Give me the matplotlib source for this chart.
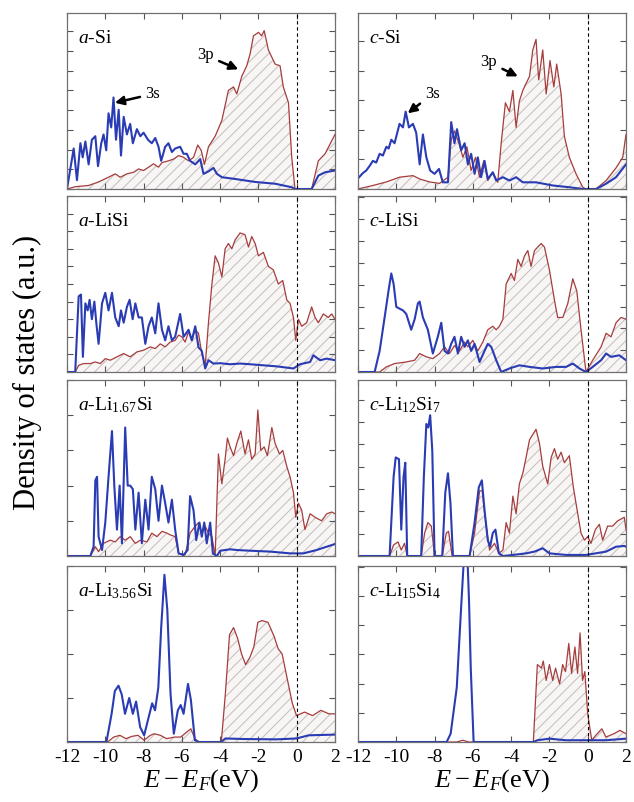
import numpy as np
import matplotlib.pyplot as plt
from matplotlib.ticker import MultipleLocator

plt.rcParams['font.family'] = 'serif'
plt.rcParams['font.serif'] = ['Liberation Serif', 'DejaVu Serif']
plt.rcParams['mathtext.fontset'] = 'custom'
plt.rcParams['mathtext.rm'] = 'Liberation Serif'
plt.rcParams['mathtext.it'] = 'Liberation Serif:italic'
plt.rcParams['axes.unicode_minus'] = False
plt.rcParams['hatch.color'] = '#c4bcbc'
plt.rcParams['hatch.linewidth'] = 0.7

# (E - E_F in eV, DOS in a.u.), 3s = blue, 3p = red
a_si_s = [(-12.0, 0), (-11.65, .23), (-11.48, .05), (-11.3, .26), (-11.18, .18), (-11.04, .27),
          (-10.87, .14), (-10.7, .28), (-10.52, .30), (-10.38, .13), (-10.21, .26), (-10.09, .31),
          (-9.95, .22), (-9.83, .43), (-9.69, .35), (-9.57, .52), (-9.44, .28), (-9.3, .45),
          (-9.18, .19), (-9.04, .41), (-8.87, .31), (-8.7, .37), (-8.56, .26), (-8.35, .34),
          (-8.17, .30), (-8.0, .32), (-7.77, .28), (-7.57, .26), (-7.39, .29), (-7.22, .24),
          (-7.08, .16), (-6.87, .24), (-6.7, .26), (-6.52, .21), (-6.35, .23), (-6.09, .24),
          (-5.91, .20), (-5.74, .20), (-5.57, .16), (-5.3, .14), (-5.04, .17), (-4.87, .086),
          (-4.61, .10), (-4.35, .12), (-4.17, .086), (-3.91, .067), (-3.22, .057), (-2.17, .04),
          (-1.13, .03), (-0.26, .01), (-0.09, 0), (0.78, 0), (1.13, .076), (1.48, .095), (2.0, .105)]
a_si_p = [(-12.0, 0), (-11.57, .013), (-10.87, .02), (-10.35, .04), (-9.83, .067), (-9.48, .086),
          (-9.22, .067), (-8.87, .086), (-8.52, .095), (-8.26, .114), (-8.0, .105), (-7.74, .124),
          (-7.48, .143), (-7.22, .124), (-7.04, .15), (-6.7, .16), (-6.43, .17), (-6.17, .19),
          (-5.91, .18), (-5.65, .16), (-5.39, .18), (-5.17, .25), (-4.99, .22), (-4.82, .14),
          (-4.61, .24), (-4.26, .30), (-3.91, .39), (-3.57, .56), (-3.3, .58), (-3.13, .54),
          (-2.87, .64), (-2.61, .70), (-2.43, .77), (-2.26, .87), (-2.0, .89), (-1.83, .87),
          (-1.7, .90), (-1.48, .79), (-1.13, .71), (-0.87, .70), (-0.7, .58), (-0.43, .49),
          (-0.26, .18), (-0.09, 0), (0.78, 0), (1.13, .16), (1.48, .20), (2.0, .31)]

c_si_s = [(-12.0, .06), (-11.75, .09), (-11.57, .105), (-11.4, .13), (-11.22, .16), (-11.05, .15),
          (-10.87, .20), (-10.7, .19), (-10.52, .24), (-10.4, .23), (-10.26, .28), (-10.09, .26),
          (-9.83, .37), (-9.65, .35), (-9.51, .44), (-9.34, .35), (-9.13, .37), (-8.96, .32),
          (-8.78, .14), (-8.61, .31), (-8.43, .18), (-8.23, .105), (-8.0, .086), (-7.77, .114),
          (-7.57, .038), (-7.3, .038), (-7.13, .38), (-6.96, .26), (-6.83, .34), (-6.61, .22),
          (-6.43, .26), (-6.26, .14), (-6.09, .20), (-5.91, .086), (-5.74, .18), (-5.57, .067),
          (-5.39, .16), (-5.22, .057), (-4.96, .095), (-4.78, .048), (-4.43, .067), (-4.09, .048),
          (-3.74, .067), (-3.39, .038), (-2.7, .038), (-1.83, .02), (-0.96, .01), (-0.26, 0),
          (0.43, 0), (0.96, .03), (1.48, .067), (2.0, .14)]
c_si_p = [(-12.0, 0), (-11.22, .02), (-10.52, .04), (-9.83, .067), (-9.13, .076), (-8.78, .057),
          (-8.26, .04), (-7.74, .032), (-7.3, .067), (-7.13, .28), (-6.96, .33), (-6.73, .26),
          (-6.52, .18), (-6.31, .24), (-6.09, .105), (-5.86, .18), (-5.65, .067), (-5.43, .16),
          (-5.22, .048), (-4.96, .095), (-4.7, .038), (-4.52, .26), (-4.3, .49), (-4.09, .44),
          (-3.91, .56), (-3.74, .35), (-3.57, .50), (-3.39, .56), (-3.22, .60), (-3.04, .64),
          (-2.87, .79), (-2.7, .85), (-2.56, .62), (-2.35, .79), (-2.17, .54), (-1.97, .73),
          (-1.77, .58), (-1.62, .71), (-1.39, .54), (-1.22, .30), (-0.96, .18), (-0.61, .086),
          (-0.26, .01), (-0.09, 0), (0.43, 0), (0.96, .048), (1.48, .12), (1.83, .18), (2.0, .31)]

a_lisi_s = [(-12.0, 0), (-11.57, 0), (-11.39, .43), (-11.27, .44), (-11.17, .086), (-11.04, .39),
            (-10.92, .35), (-10.82, .41), (-10.7, .30), (-10.57, .40), (-10.47, .28), (-10.35, .16),
            (-10.17, .39), (-10.0, .45), (-9.83, .35), (-9.65, .45), (-9.48, .31), (-9.3, .26),
            (-9.18, .35), (-9.04, .28), (-8.87, .37), (-8.73, .41), (-8.57, .30), (-8.43, .39),
            (-8.26, .31), (-8.09, .31), (-7.91, .16), (-7.74, .26), (-7.57, .31), (-7.39, .22),
            (-7.22, .39), (-7.04, .24), (-6.87, .18), (-6.7, .26), (-6.52, .18), (-6.35, .20),
            (-6.09, .33), (-5.91, .20), (-5.65, .24), (-5.48, .18), (-5.3, .26), (-5.13, .14),
            (-4.96, .12), (-4.78, .02), (-4.61, .067), (-4.35, .048), (-4.0, .05), (-3.48, .044),
            (-2.96, .048), (-2.43, .044), (-1.74, .038), (-1.04, .032), (-0.17, .02), (0.17, .044),
            (0.7, .057), (0.87, .095), (1.22, .067), (1.57, .076), (2.0, .067)]
a_lisi_p = [(-12.0, 0), (-11.57, 0), (-11.39, .038), (-11.13, .048), (-10.78, .048), (-10.52, .057),
            (-10.26, .048), (-10.0, .076), (-9.74, .067), (-9.39, .086), (-9.04, .105), (-8.7, .086),
            (-8.35, .114), (-8.0, .124), (-7.65, .143), (-7.39, .133), (-7.13, .16), (-6.87, .143),
            (-6.61, .17), (-6.35, .18), (-6.17, .21), (-6.0, .20), (-5.83, .17), (-5.65, .23),
            (-5.48, .18), (-5.3, .24), (-5.13, .22), (-4.96, .105), (-4.78, .038), (-4.61, .28),
            (-4.43, .50), (-4.26, .66), (-4.09, .62), (-3.91, .54), (-3.74, .70), (-3.57, .73),
            (-3.39, .70), (-3.22, .75), (-2.96, .79), (-2.7, .78), (-2.52, .71), (-2.35, .77),
            (-2.17, .73), (-2.0, .66), (-1.74, .68), (-1.48, .60), (-1.22, .58), (-0.96, .50),
            (-0.73, .52), (-0.52, .41), (-0.35, .39), (-0.17, .31), (-0.05, .18), (0.09, .30),
            (0.26, .26), (0.52, .28), (0.78, .37), (0.96, .31), (1.13, .28), (1.39, .33),
            (1.65, .31), (1.83, .33), (2.0, .30)]

c_lisi_s = [(-12.0, 0), (-11.13, 0), (-10.87, .12), (-10.61, .31), (-10.38, .48), (-10.26, .56),
            (-10.14, .50), (-10.0, .37), (-9.83, .36), (-9.65, .35), (-9.48, .33), (-9.22, .24),
            (-9.04, .30), (-8.87, .39), (-8.78, .40), (-8.61, .31), (-8.35, .24), (-8.09, .105),
            (-7.83, .20), (-7.65, .28), (-7.48, .12), (-7.3, .105), (-7.13, .16), (-6.96, .20),
            (-6.78, .105), (-6.61, .20), (-6.43, .143), (-6.26, .18), (-6.09, .12), (-5.91, .16),
            (-5.65, .057), (-5.39, .12), (-5.22, .16), (-5.04, .143), (-4.78, .067), (-4.52, 0),
            (-4.09, .02), (-3.57, .038), (-3.04, .029), (-2.35, .02), (-1.65, .029), (-1.13, .029),
            (-0.78, .048), (-0.43, .02), (-0.09, 0), (0.26, .029), (0.7, .067), (0.96, .105),
            (1.22, .086), (1.65, .095), (2.0, .067)]
c_lisi_p = [(-12.0, 0), (-10.87, 0), (-10.52, .029), (-10.09, .048), (-9.48, .057), (-9.04, .067),
            (-8.78, .105), (-8.43, .086), (-8.09, .076), (-7.74, .105), (-7.48, .143), (-7.22, .105),
            (-6.96, .15), (-6.7, .12), (-6.43, .17), (-6.26, .143), (-6.0, .18), (-5.74, .12),
            (-5.48, .17), (-5.22, .24), (-4.96, .26), (-4.78, .24), (-4.61, .26), (-4.43, .30),
            (-4.26, .50), (-4.0, .56), (-3.83, .52), (-3.65, .64), (-3.48, .60), (-3.3, .66),
            (-3.13, .69), (-2.96, .60), (-2.78, .69), (-2.61, .71), (-2.43, .73), (-2.26, .71),
            (-2.0, .58), (-1.74, .41), (-1.57, .31), (-1.3, .31), (-1.04, .39), (-0.78, .53),
            (-0.57, .46), (-0.35, .24), (-0.09, 0), (0.26, .067), (0.7, .143), (0.96, .22),
            (1.22, .20), (1.48, .28), (1.74, .31), (2.0, .30)]

a_li167_s = [(-12.0, 0), (-10.78, 0), (-10.61, .053), (-10.52, .43), (-10.43, .45), (-10.35, .11),
             (-10.17, .034), (-10.0, .19), (-9.83, .45), (-9.65, .71), (-9.53, .40), (-9.39, .15),
             (-9.25, .40), (-9.13, .072), (-8.96, .73), (-8.83, .40), (-8.7, .40), (-8.56, .38),
             (-8.43, .15), (-8.26, .36), (-8.09, .072), (-7.91, .32), (-7.74, .15), (-7.57, .45),
             (-7.39, .38), (-7.22, .20), (-7.04, .40), (-6.87, .30), (-6.7, .19), (-6.52, .32),
             (-6.35, .15), (-6.17, .015), (-5.91, .006), (-5.7, .034), (-5.57, .34), (-5.39, .26),
             (-5.25, .09), (-5.08, .19), (-4.96, .11), (-4.83, .19), (-4.7, .072), (-4.52, .19),
             (-4.38, .015), (-4.17, 0), (-4.0, .03), (-3.48, .038), (-3.13, .034), (-2.43, .03),
             (-1.39, .025), (-0.35, .015), (0.35, .015), (1.04, .034), (1.57, .053), (2.0, .068)]
a_li167_p = [(-12.0, 0), (-10.78, 0), (-10.52, .053), (-10.35, .025), (-10.09, .072), (-9.74, .09),
             (-9.48, .08), (-9.22, .11), (-8.96, .09), (-8.7, .11), (-8.43, .072), (-8.17, .09),
             (-7.83, .08), (-7.57, .13), (-7.3, .11), (-7.04, .14), (-6.78, .13), (-6.61, .12),
             (-6.35, .11), (-6.17, .015), (-5.83, .006), (-5.57, .13), (-5.3, .17), (-5.13, .19),
             (-4.96, .13), (-4.78, .17), (-4.61, .13), (-4.43, .11), (-4.26, 0), (-4.09, .58),
             (-3.91, .41), (-3.74, .55), (-3.62, .67), (-3.48, .62), (-3.3, .57), (-3.13, .64),
             (-2.92, .71), (-2.7, .58), (-2.52, .66), (-2.35, .55), (-2.17, .58), (-2.03, .83),
             (-1.88, .60), (-1.7, .62), (-1.53, .57), (-1.3, .73), (-1.13, .64), (-0.9, .58),
             (-0.73, .60), (-0.52, .51), (-0.35, .45), (-0.17, .36), (-0.05, .22), (0.09, .30),
             (0.26, .26), (0.43, .15), (0.7, .24), (0.96, .22), (1.3, .20), (1.57, .24),
             (1.83, .25), (2.0, .24)]

c_li12si7_s = [(-12.0, 0), (-10.35, 0), (-10.14, .45), (-10.03, .56), (-9.86, .55), (-9.74, .15),
               (-9.62, .45), (-9.53, .53), (-9.43, 0), (-8.7, 0), (-8.56, .45), (-8.43, .75),
               (-8.33, .73), (-8.23, .80), (-8.12, .60), (-8.0, 0), (-7.6, 0), (-7.44, .36),
               (-7.3, .47), (-7.17, .30), (-7.04, 0), (-6.17, 0), (-5.91, .19), (-5.69, .39),
               (-5.53, .43), (-5.39, .26), (-5.22, .09), (-5.1, .053), (-4.96, .13), (-4.82, .15),
               (-4.64, .015), (-4.43, 0), (-3.91, .006), (-3.22, .015), (-2.78, .025), (-2.35, .044),
               (-2.0, .015), (-1.13, .006), (-0.09, .006), (0.96, .025), (1.48, .053), (1.91, .057),
               (2.0, .053)]
c_li12si7_p = [(-12.0, 0), (-10.35, 0), (-10.14, .063), (-9.91, .08), (-9.74, .034), (-9.57, .072),
               (-9.43, 0), (-8.7, 0), (-8.52, .13), (-8.35, .19), (-8.17, .17), (-8.0, 0), (-7.6, 0),
               (-7.39, .13), (-7.27, .14), (-7.08, 0), (-6.17, 0), (-5.91, .13), (-5.65, .37),
               (-5.51, .37), (-5.34, .20), (-5.13, .034), (-4.87, .072), (-4.64, .015), (-4.43, .034),
               (-4.26, .19), (-4.09, .13), (-3.91, .34), (-3.74, .24), (-3.57, .41), (-3.39, .47),
               (-3.22, .56), (-3.04, .66), (-2.87, .69), (-2.7, .72), (-2.52, .64), (-2.35, .51),
               (-2.09, .41), (-1.91, .56), (-1.74, .61), (-1.57, .55), (-1.39, .59), (-1.22, .53),
               (-0.96, .57), (-0.75, .39), (-0.52, .24), (-0.35, .13), (-0.17, .09), (0.0, .11),
               (0.17, .072), (0.4, .15), (0.61, .18), (0.78, .09), (1.04, .17), (1.3, .17),
               (1.57, .20), (1.91, .22), (2.0, .15)]

a_li356_s = [(-12.0, 0), (-9.94, 0), (-9.67, .16), (-9.5, .29), (-9.31, .32), (-9.14, .27),
             (-8.97, .16), (-8.75, .25), (-8.56, .16), (-8.39, .23), (-8.18, .085), (-7.97, .038),
             (-7.69, .16), (-7.55, .22), (-7.4, .18), (-7.23, .31), (-7.08, .65), (-6.91, .95),
             (-6.76, .75), (-6.59, .27), (-6.42, .047), (-6.21, .18), (-6.06, .21), (-5.91, .16),
             (-5.68, .33), (-5.53, .24), (-5.32, .01), (-5.11, 0), (-3.94, 0), (-3.73, .02),
             (-2.77, .017), (-1.08, .015), (-0.01, .02), (0.62, .038), (2.0, .042)]
a_li356_p = [(-12.0, 0), (-9.88, 0), (-9.56, .028), (-9.24, .038), (-8.92, .019), (-8.61, .032),
             (-8.29, .038), (-7.97, .01), (-7.65, .038), (-7.44, .047), (-7.12, .038), (-6.8, .019),
             (-6.38, .028), (-6.06, .028), (-5.74, .057), (-5.53, .075), (-5.32, .019), (-5.11, 0),
             (-3.94, 0), (-3.73, .27), (-3.51, .61), (-3.3, .65), (-3.09, .59), (-2.88, .50),
             (-2.67, .44), (-2.45, .48), (-2.24, .54), (-2.03, .68), (-1.82, .69), (-1.5, .68),
             (-1.18, .60), (-0.97, .53), (-0.76, .50), (-0.44, .33), (-0.23, .22), (-0.01, .15),
             (0.41, .17), (0.83, .15), (1.26, .18), (1.68, .16), (2.0, .16)]

c_li15si4_s = [(-12.0, 0), (-7.37, 0), (-7.16, .047), (-6.84, .31), (-6.63, .73), (-6.48, 1.02),
               (-6.4, 1.1), (-6.3, 1.1), (-6.2, .8), (-6.11, .42), (-5.96, 0), (-2.84, 0),
               (-2.63, .01), (-2.0, .019), (-1.16, .01), (0.95, .01), (2.0, .019)]
c_li15si4_p = [(-12.0, 0), (-6.84, 0), (-6.53, .01), (-6.21, 0), (-2.84, 0), (-2.63, .44),
               (-2.42, .42), (-2.32, .46), (-2.17, .35), (-2.0, .44), (-1.83, .35), (-1.68, .42),
               (-1.47, .33), (-1.31, .44), (-1.16, .40), (-0.99, .56), (-0.84, .39), (-0.67, .54),
               (-0.53, .39), (-0.4, .62), (-0.27, .35), (-0.15, .40), (0.0, .16), (0.21, .01),
               (0.42, .038), (0.74, .075), (0.95, .028), (1.37, .047), (1.68, .066), (2.0, .047)]

labels = [r'$a$-Si', r'$c$-Si', r'$a$-LiSi', r'$c$-LiSi',
          r'$a$-Li$_{1.67}$Si', r'$c$-Li$_{12}$Si$_{7}$',
          r'$a$-Li$_{3.56}$Si', r'$c$-Li$_{15}$Si$_{4}$']
s_data = [a_si_s, c_si_s, a_lisi_s, c_lisi_s, a_li167_s, c_li12si7_s, a_li356_s, c_li15si4_s]
p_data = [a_si_p, c_si_p, a_lisi_p, c_lisi_p, a_li167_p, c_li12si7_p, a_li356_p, c_li15si4_p]
ytick_steps = [0.112, 0.168, 0.1, 0.124, 0.2, 0.127, 0.25, 0.166]

# 3s / 3p arrows: (text, text pos, arrow tip) for the two Si panels
arrows = {0: [('3s', (-7.9, 0.54), (-9.5, 0.49)), ('3p', (-5.2, 0.76), (-3.05, 0.68))],
          1: [('3s', (-8.5, 0.54), (-9.4, 0.43)), ('3p', (-5.6, 0.72), (-3.65, 0.64))]}

fig = plt.figure(figsize=(6.34, 8.02), dpi=100)
lefts = [67 / 634, 358 / 634]
width = 268 / 634
bottoms = [1 - 189 / 802, 1 - 372 / 802, 1 - 556 / 802, 1 - 742 / 802]
height = 176 / 802

for i in range(8):
    row, col = i // 2, i % 2
    ax = fig.add_axes([lefts[col], bottoms[row], width, height])
    e_p, y_p = zip(*p_data[i])
    e_s, y_s = zip(*s_data[i])

    ax.fill_between(e_p, 0, y_p, facecolor='#f8f5f5', edgecolor='#c4bcbc', hatch='///', linewidth=0)
    ax.plot(e_p, y_p, color='#a63c3c', lw=0.9)
    ax.plot(e_s, y_s, color='#2a3cb4', lw=1.5)
    ax.axvline(0, color='k', ls=(0, (3, 2.5)), lw=0.8)

    ax.set_xlim(-12, 2)
    ax.set_ylim(0, 1)
    ax.xaxis.set_major_locator(MultipleLocator(2))
    ax.yaxis.set_major_locator(MultipleLocator(ytick_steps[i]))
    ax.tick_params(direction='in', top=True, right=True, length=4, width=0.8, color='#555555',
                   labelleft=False, labelsize=14, pad=5)
    for sp in ax.spines.values():
        sp.set_color('#707070')
        sp.set_linewidth(0.9)
    if row < 3:
        ax.tick_params(labelbottom=False)
    else:
        ax.set_xlabel(r'$E-E_F$(eV)', fontsize=19, labelpad=1)

    ax.text(0.04, 0.83, labels[i], transform=ax.transAxes, fontsize=14, va='baseline', ha='left')

    for txt, xytext, xy in arrows.get(i, []):
        ax.annotate(txt, xy=xy, xytext=xytext, fontsize=12, va='center', ha='left',
                    arrowprops=dict(arrowstyle='-|>', color='k', lw=1.8, mutation_scale=13,
                                    shrinkA=2, shrinkB=0))

fig.text(0.043, 0.535, 'Density of states (a.u.)', rotation=90, fontsize=22, va='center', ha='center')

fig.savefig('out.png', dpi=100)
